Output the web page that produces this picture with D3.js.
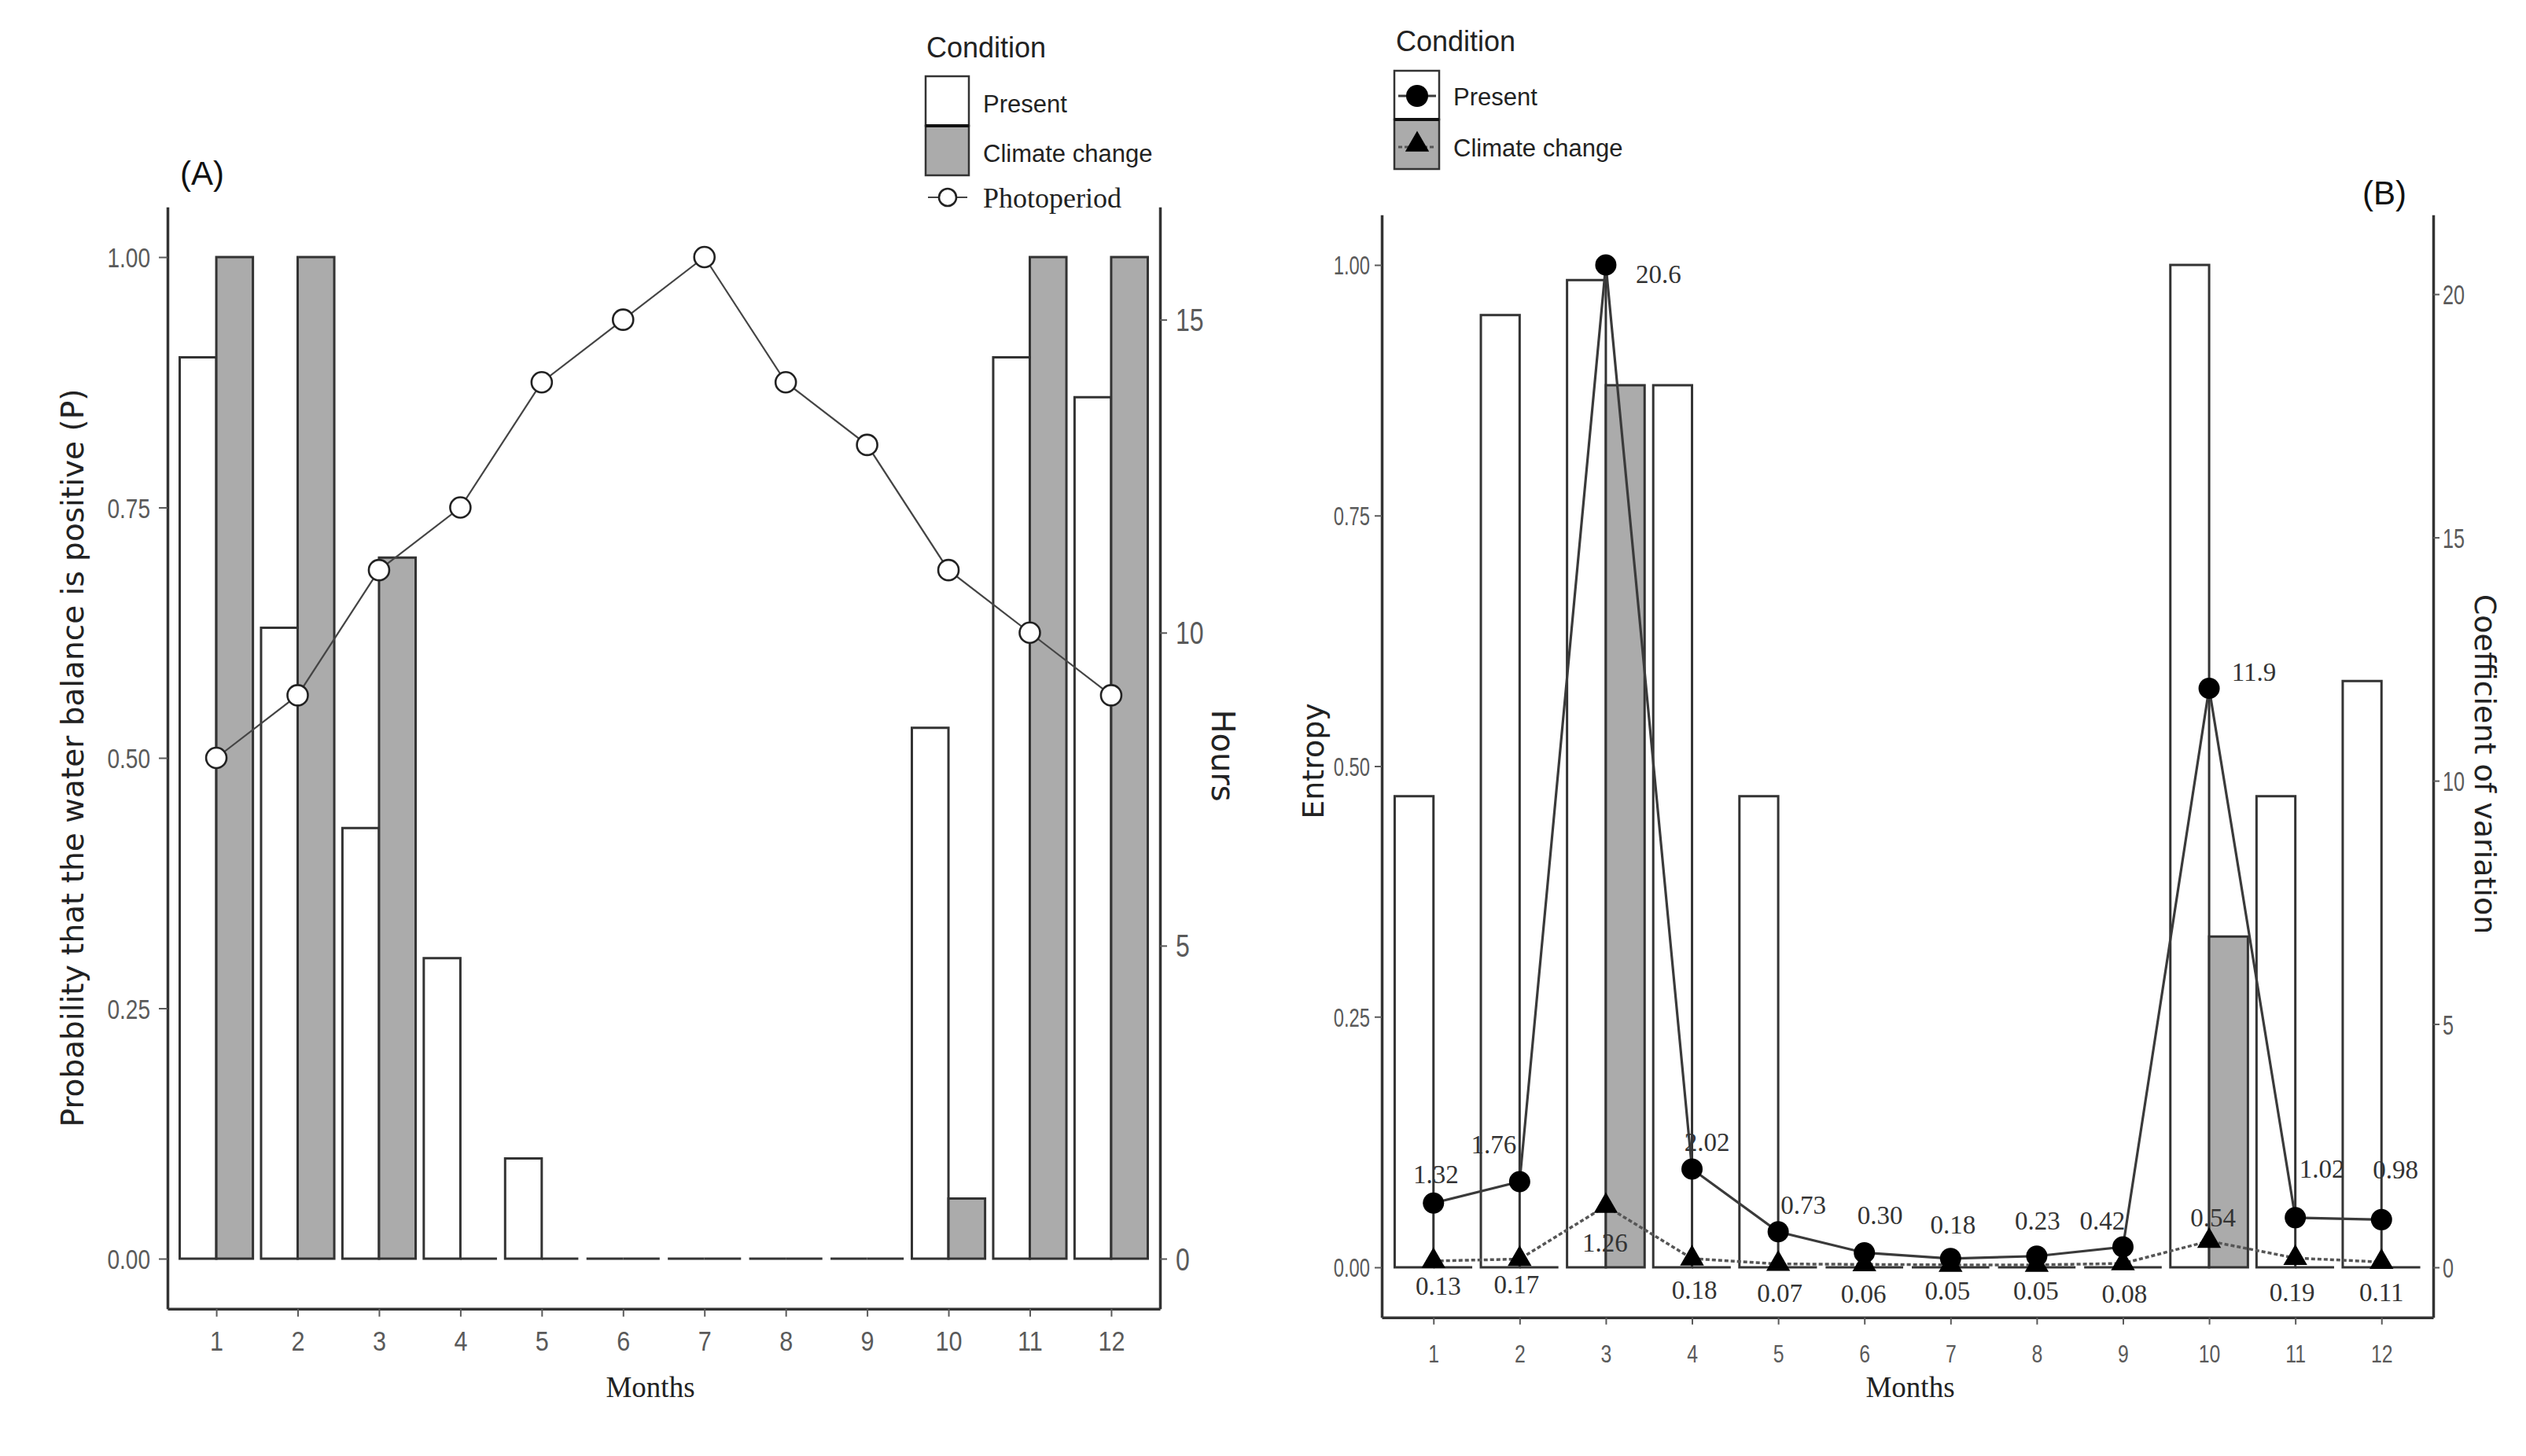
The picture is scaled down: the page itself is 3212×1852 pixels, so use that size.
<!DOCTYPE html>
<html>
<head>
<meta charset="utf-8">
<script src="https://cdn.jsdelivr.net/npm/d3@7"></script>
<style>
  html, body { margin: 0; padding: 0; background: #ffffff; }
  svg { display: block; }
</style>
</head>
<body>
<svg id="chart" width="3212" height="1852"></svg>
<script>
// ---------------- DATA ----------------
const months = [1, 2, 3, 4, 5, 6, 7, 8, 9, 10, 11, 12];
const monthLabels = ["1", "2", "3", "4", "5", "6", "7", "8", "9", "10", "11", "12"];

// Panel A: probability that the water balance is positive
const probPresent = [0.90, 0.63, 0.43, 0.30, 0.10, 0, 0, 0, 0, 0.53, 0.90, 0.86];
const probClimate = [1.00, 1.00, 0.70, 0, 0, 0, 0, 0, 0, 0.06, 1.00, 1.00];
const photoperiodHours = [8, 9, 11, 12, 14, 15, 16, 14, 13, 11, 10, 9];

// Panel B: entropy (bars) and coefficient of variation (points)
const entropyPresent = [0.47, 0.95, 0.985, 0.88, 0.47, 0, 0, 0, 0, 1.00, 0.47, 0.585];
const entropyClimate = [0, 0, 0.88, 0, 0, 0, 0, 0, 0, 0.33, 0, 0];
const cvPresent = [1.32, 1.76, 20.6, 2.02, 0.73, 0.30, 0.18, 0.23, 0.42, 11.9, 1.02, 0.98];
const cvClimate = [0.13, 0.17, 1.26, 0.18, 0.07, 0.06, 0.05, 0.05, 0.08, 0.54, 0.19, 0.11];
const cvPresentText = ["1.32", "1.76", "20.6", "2.02", "0.73", "0.30", "0.18", "0.23", "0.42", "11.9", "1.02", "0.98"];
const cvClimateText = ["0.13", "0.17", "1.26", "0.18", "0.07", "0.06", "0.05", "0.05", "0.08", "0.54", "0.19", "0.11"];

// Tick values
const probTicks = [0, 0.25, 0.5, 0.75, 1];
const hourTicks = [0, 5, 10, 15];
const cvTicks = [0, 5, 10, 15, 20];

// Legend entries
const conditionNames = ["Present", "Climate change"];

// ---------------- LAYOUT (styling, not data) ----------------
const presentLabelNudge = [[3,-37],[-33,-48],[67,11],[19,-35],[32,-34],[20,-48],[3,-43],[1,-45],[-26,-34],[57,-21],[34,-62],[18,-64]];
const climateLabelNudge = [[6,31],[-4,32],[-1,46],[3,40],[2,37],[-1,37],[-4,33],[-1,33],[2,38],[5,-30],[-4,43],[0,38]];

const INK = "#333333";
const GREY_FILL = "#ababab";
const TICK_COL = "#5a5a5a";
const SANS = "'Liberation Sans', Arial, sans-serif";
const SERIF = "'Liberation Serif', 'Times New Roman', serif";
const TITLE_FONT = "'DejaVu Sans', sans-serif";

const svg = d3.select("#chart");
const barW = 0.45;

function barPath(x, y, x0, x1, v) {
  const yb = y(0), yt = y(v);
  return `M${x(x0)},${yb}V${yt}H${x(x1)}V${yb}Z`;
}

function styleAxis(g, opts) {
  g.select(".domain").attr("stroke", INK).attr("stroke-width", 3.5);
  g.selectAll(".tick line").attr("stroke", TICK_COL).attr("stroke-width", 2);
  const t = g.selectAll(".tick text")
    .attr("font-family", SANS)
    .attr("font-size", opts.size)
    .attr("fill", TICK_COL);
  if (opts.orient === "left" || opts.orient === "right") {
    t.attr("x", opts.offset / opts.sx).attr("dy", "0.35em")
     .attr("transform", `scale(${opts.sx},1)`);
  } else {
    t.attr("y", opts.offset).attr("dy", "0.35em").attr("x", 0)
     .attr("transform", `scale(${opts.sx},1)`);
  }
}

// ================= PANEL A =================
const xA = d3.scaleLinear().domain([0.4, 12.6]).range([213, 1475]);
const yA = d3.scaleLinear().domain([-0.05, 1.05]).range([1664.7, 263.3]);
const yHours = d3.scaleLinear().domain([-0.05 * 16, 1.05 * 16]).range([1664.7, 263.3]);

const gA = svg.append("g");

// bars
gA.selectAll("path.presentA").data(months).enter().append("path")
  .attr("d", (m, i) => barPath(xA, yA, m - barW, m, probPresent[i]))
  .attr("fill", "#ffffff").attr("stroke", INK).attr("stroke-width", 3);
gA.selectAll("path.climateA").data(months).enter().append("path")
  .attr("d", (m, i) => barPath(xA, yA, m, m + barW, probClimate[i]))
  .attr("fill", GREY_FILL).attr("stroke", INK).attr("stroke-width", 3);

// photoperiod line + points
const photoLine = d3.line().x((d, i) => xA(months[i])).y(d => yHours(d));
gA.append("path").datum(photoperiodHours).attr("d", photoLine)
  .attr("fill", "none").attr("stroke", "#444").attr("stroke-width", 2.2);
gA.selectAll("circle.photo").data(photoperiodHours).enter().append("circle")
  .attr("cx", (d, i) => xA(months[i])).attr("cy", d => yHours(d)).attr("r", 13)
  .attr("fill", "#ffffff").attr("stroke", "#222").attr("stroke-width", 2.6);

// axes
const axAL = gA.append("g").attr("transform", `translate(${xA.range()[0]},0)`)
  .call(d3.axisLeft(yA).tickValues(probTicks).tickFormat(d3.format(".2f")).tickSize(11).tickSizeOuter(0));
styleAxis(axAL, {orient: "left", size: 36, sx: 0.78, offset: -22});
const axAR = gA.append("g").attr("transform", `translate(${xA.range()[1]},0)`)
  .call(d3.axisRight(yHours).tickValues(hourTicks).tickFormat(d3.format("d")).tickSize(9).tickSizeOuter(0));
styleAxis(axAR, {orient: "right", size: 40, sx: 0.8, offset: 20});
const axAB = gA.append("g").attr("transform", `translate(0,${yA.range()[0]})`)
  .call(d3.axisBottom(xA).tickValues(months).tickFormat((d, i) => monthLabels[i]).tickSize(10).tickSizeOuter(0));
styleAxis(axAB, {orient: "bottom", size: 36, sx: 0.85, offset: 41});

// titles
gA.append("text").attr("transform", "translate(92,964) rotate(-90)")
  .attr("text-anchor", "middle").attr("dy", "0.35em")
  .attr("font-family", TITLE_FONT).attr("font-size", 39).attr("fill", "#222")
  .text("Probability that the water balance is positive (P)");
gA.append("text").attr("transform", "translate(1555,961) rotate(90)")
  .attr("text-anchor", "middle").attr("dy", "0.35em")
  .attr("font-family", TITLE_FONT).attr("font-size", 40).attr("fill", "#222")
  .text("Hours");
gA.append("text").attr("x", 827).attr("y", 1777).attr("text-anchor", "middle")
  .attr("font-family", SERIF).attr("font-size", 37).attr("fill", "#222").text("Months");
gA.append("text").attr("x", 229).attr("y", 235)
  .attr("font-family", SANS).attr("font-size", 42).attr("fill", "#111").text("(A)");

// legend A
const legA = gA.append("g");
legA.append("text").attr("x", 1178).attr("y", 73)
  .attr("font-family", SANS).attr("font-size", 36).attr("fill", "#222").text("Condition");
legA.append("rect").attr("x", 1177).attr("y", 97).attr("width", 55).attr("height", 63)
  .attr("fill", "#fff").attr("stroke", INK).attr("stroke-width", 2.5);
legA.append("rect").attr("x", 1177).attr("y", 160).attr("width", 55).attr("height", 63)
  .attr("fill", GREY_FILL).attr("stroke", INK).attr("stroke-width", 2.5);
legA.append("line").attr("x1", 1177).attr("x2", 1232).attr("y1", 160).attr("y2", 160)
  .attr("stroke", "#111").attr("stroke-width", 4);
legA.selectAll("text.cond").data(conditionNames).enter().append("text")
  .attr("x", 1250).attr("y", (d, i) => 132 + i * 63).attr("dy", "0.35em")
  .attr("font-family", SANS).attr("font-size", 31).attr("fill", "#222").text(d => d);
legA.append("line").attr("x1", 1180).attr("x2", 1230).attr("y1", 251).attr("y2", 251)
  .attr("stroke", "#444").attr("stroke-width", 2.2);
legA.append("circle").attr("cx", 1205).attr("cy", 251).attr("r", 11)
  .attr("fill", "#fff").attr("stroke", "#222").attr("stroke-width", 2.6);
legA.append("text").attr("x", 1250).attr("y", 251).attr("dy", "0.35em")
  .attr("font-family", SERIF).attr("font-size", 36).attr("fill", "#222").text("Photoperiod");

// ================= PANEL B =================
const xB = d3.scaleLinear().domain([0.4, 12.6]).range([1757, 3094]);
const yB = d3.scaleLinear().domain([-0.05, 1.05]).range([1675.75, 273.25]);
const cvMax = d3.max(cvPresent);
const yCV = d3.scaleLinear().domain([-0.05 * cvMax, 1.05 * cvMax]).range([1675.75, 273.25]);

const gB = svg.append("g");

gB.selectAll("path.presentB").data(months).enter().append("path")
  .attr("d", (m, i) => barPath(xB, yB, m - barW, m, entropyPresent[i]))
  .attr("fill", "#ffffff").attr("stroke", INK).attr("stroke-width", 3);
gB.selectAll("path.climateB").data(months).enter().append("path")
  .attr("d", (m, i) => barPath(xB, yB, m, m + barW, entropyClimate[i]))
  .attr("fill", GREY_FILL).attr("stroke", INK).attr("stroke-width", 3);

// CV lines
const cvLine = d3.line().x((d, i) => xB(months[i])).y(d => yCV(d));
gB.append("path").datum(cvClimate).attr("d", cvLine)
  .attr("fill", "none").attr("stroke", "#555").attr("stroke-width", 3.5)
  .attr("stroke-dasharray", "5,3");
gB.append("path").datum(cvPresent).attr("d", cvLine)
  .attr("fill", "none").attr("stroke", "#3a3a3a").attr("stroke-width", 3.2);

// points
gB.selectAll("circle.cvp").data(cvPresent).enter().append("circle")
  .attr("cx", (d, i) => xB(months[i])).attr("cy", d => yCV(d)).attr("r", 13.5)
  .attr("fill", "#000");
const tri = d3.symbol().type(d3.symbolTriangle).size(400);
gB.selectAll("path.cvc").data(cvClimate).enter().append("path")
  .attr("d", tri)
  .attr("transform", (d, i) => `translate(${xB(months[i])},${yCV(d)})`)
  .attr("fill", "#000");

// value labels
gB.selectAll("text.lp").data(cvPresentText).enter().append("text")
  .attr("x", (d, i) => xB(months[i]) + presentLabelNudge[i][0])
  .attr("y", (d, i) => yCV(cvPresent[i]) + presentLabelNudge[i][1])
  .attr("dy", "0.35em").attr("text-anchor", "middle")
  .attr("font-family", SERIF).attr("font-size", 33).attr("fill", "#333").text(d => d);
gB.selectAll("text.lc").data(cvClimateText).enter().append("text")
  .attr("x", (d, i) => xB(months[i]) + climateLabelNudge[i][0])
  .attr("y", (d, i) => yCV(cvClimate[i]) + climateLabelNudge[i][1])
  .attr("dy", "0.35em").attr("text-anchor", "middle")
  .attr("font-family", SERIF).attr("font-size", 33).attr("fill", "#333").text(d => d);

// axes
const axBL = gB.append("g").attr("transform", `translate(${xB.range()[0]},0)`)
  .call(d3.axisLeft(yB).tickValues(probTicks).tickFormat(d3.format(".2f")).tickSize(9).tickSizeOuter(0));
styleAxis(axBL, {orient: "left", size: 34, sx: 0.7, offset: -15});
const axBR = gB.append("g").attr("transform", `translate(${xB.range()[1]},0)`)
  .call(d3.axisRight(yCV).tickValues(cvTicks).tickFormat(d3.format("d")).tickSize(8).tickSizeOuter(0));
styleAxis(axBR, {orient: "right", size: 36, sx: 0.7, offset: 12});
const axBB = gB.append("g").attr("transform", `translate(0,${yB.range()[0]})`)
  .call(d3.axisBottom(xB).tickValues(months).tickFormat((d, i) => monthLabels[i]).tickSize(9).tickSizeOuter(0));
styleAxis(axBB, {orient: "bottom", size: 31, sx: 0.8, offset: 46});

// titles
gB.append("text").attr("transform", "translate(1670,968) rotate(-90)")
  .attr("text-anchor", "middle").attr("dy", "0.35em")
  .attr("font-family", TITLE_FONT).attr("font-size", 38).attr("fill", "#222").text("Entropy");
gB.append("text").attr("transform", "translate(3160,972) rotate(90)")
  .attr("text-anchor", "middle").attr("dy", "0.35em")
  .attr("font-family", TITLE_FONT).attr("font-size", 38).attr("fill", "#222").text("Coefficient of variation");
gB.append("text").attr("x", 2429).attr("y", 1777).attr("text-anchor", "middle")
  .attr("font-family", SERIF).attr("font-size", 37).attr("fill", "#222").text("Months");
gB.append("text").attr("x", 3004).attr("y", 260)
  .attr("font-family", SANS).attr("font-size", 42).attr("fill", "#111").text("(B)");

// legend B
const legB = gB.append("g");
legB.append("text").attr("x", 1775).attr("y", 65)
  .attr("font-family", SANS).attr("font-size", 36).attr("fill", "#222").text("Condition");
legB.append("rect").attr("x", 1773).attr("y", 90).attr("width", 57).attr("height", 62)
  .attr("fill", "#fff").attr("stroke", INK).attr("stroke-width", 2.5);
legB.append("rect").attr("x", 1773).attr("y", 152).attr("width", 57).attr("height", 63)
  .attr("fill", GREY_FILL).attr("stroke", INK).attr("stroke-width", 2.5);
legB.append("line").attr("x1", 1773).attr("x2", 1830).attr("y1", 152).attr("y2", 152)
  .attr("stroke", "#111").attr("stroke-width", 4);
legB.append("line").attr("x1", 1778).attr("x2", 1826).attr("y1", 122).attr("y2", 122)
  .attr("stroke", "#3a3a3a").attr("stroke-width", 3);
legB.append("circle").attr("cx", 1802).attr("cy", 122).attr("r", 14).attr("fill", "#000");
legB.append("line").attr("x1", 1778).attr("x2", 1826).attr("y1", 187).attr("y2", 187)
  .attr("stroke", "#555").attr("stroke-width", 3).attr("stroke-dasharray", "5,3");
legB.append("path").attr("d", tri).attr("transform", "translate(1802,184)").attr("fill", "#000");
legB.selectAll("text.cond").data(conditionNames).enter().append("text")
  .attr("x", 1848).attr("y", (d, i) => 123 + i * 65).attr("dy", "0.35em")
  .attr("font-family", SANS).attr("font-size", 31).attr("fill", "#222").text(d => d);
</script>
</body>
</html>
